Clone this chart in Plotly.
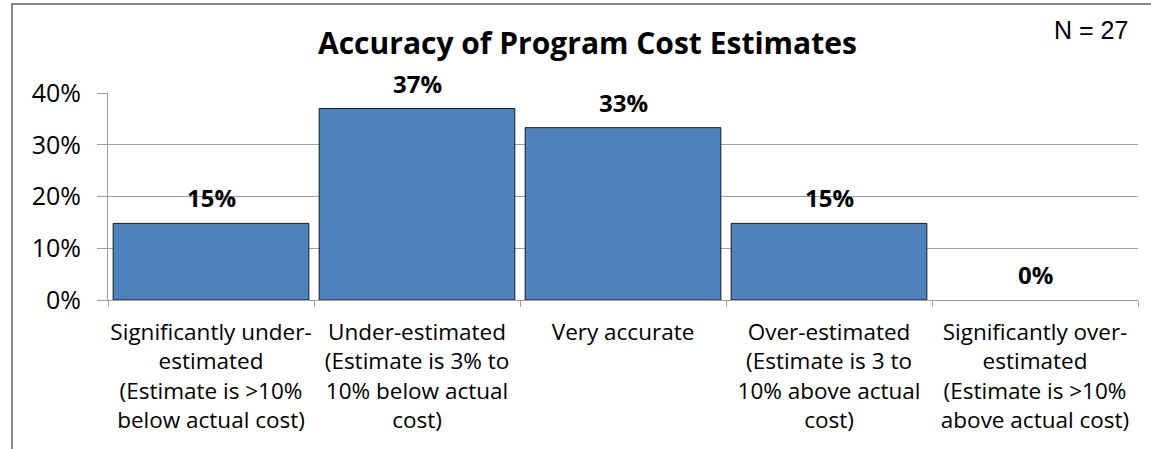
import plotly.graph_objects as go

categories = [
    "Significantly under-<br>estimated<br>(Estimate is >10%<br>below actual cost)",
    "Under-estimated<br>(Estimate is 3% to<br>10% below actual<br>cost)",
    "Very accurate",
    "Over-estimated<br>(Estimate is 3 to<br>10% above actual<br>cost)",
    "Significantly over-<br>estimated<br>(Estimate is >10%<br>above actual cost)",
]
values = [0.148, 0.370, 0.333, 0.148, 0.0]
value_labels = ["15%", "37%", "33%", "15%", "0%"]
y_ticks = [0, 0.1, 0.2, 0.3, 0.4]
y_tick_labels = ["0%", "10%", "20%", "30%", "40%"]
title_text = "Accuracy of Program Cost Estimates"
n_text = "N = 27"

FONT = "Open Sans"
W, H = 1151, 449
L, R, T, B = 108, 13, 93, 149
pw, ph = W - L - R, H - T - B

def px_x(p):
    return (p - L) / pw

def px_y(p):
    return (H - B - p) / ph

fig = go.Figure()
fig.add_trace(go.Bar(
    x=categories, y=values,
    marker=dict(color="#4F81BD",
                line=dict(color="#1a1a1a", width=[1 if v > 0 else 0 for v in values])),
    hoverinfo="skip",
))

for c, v, t in zip(categories, values, value_labels):
    fig.add_annotation(x=c, y=v, text=f"<b>{t}</b>", showarrow=False,
                       yanchor="bottom", yshift=7,
                       font=dict(family=FONT, size=24, color="#000000"))

fig.add_annotation(xref="paper", yref="paper", x=px_x(587), y=px_y(42),
                   text=f"<b>{title_text}</b>", showarrow=False,
                   xanchor="center", yanchor="middle",
                   font=dict(family=FONT, size=30, color="#000000"))
fig.add_annotation(xref="paper", yref="paper", x=px_x(1130), y=px_y(30),
                   text=n_text, showarrow=False, xanchor="right", yanchor="middle",
                   font=dict(family="Liberation Sans", size=25, color="#000000"))

fig.add_shape(type="rect", xref="paper", yref="paper",
              x0=px_x(12), x1=px_x(1160), y0=px_y(460), y1=px_y(4),
              line=dict(color="#868686", width=2), fillcolor="rgba(0,0,0,0)",
              layer="above")

fig.update_layout(
    width=W, height=H,
    margin=dict(l=L, r=R, t=T, b=B, pad=0, autoexpand=False),
    paper_bgcolor="white", plot_bgcolor="white",
    bargap=0.05, showlegend=False,
    font=dict(family=FONT, size=22, color="#000000"),
)
fig.update_xaxes(
    type="category", showgrid=False, ticks="outside", tickson="boundaries",
    ticklen=6, tickcolor="#A0A0A0", showline=True, linecolor="#A0A0A0", linewidth=1,
    tickfont=dict(family=FONT, size=22.5, color="#000000"), tickangle=0,
    ticklabelstandoff=12, automargin=False,
)
fig.update_yaxes(
    range=[0, 0.4], tickvals=y_ticks, ticktext=y_tick_labels,
    showgrid=True, gridcolor="#A0A0A0", gridwidth=1,
    showline=True, linecolor="#A0A0A0", linewidth=1,
    ticks="outside", ticklen=10, tickcolor="#A0A0A0",
    tickfont=dict(family=FONT, size=25, color="#000000"),
    zeroline=False, ticklabelstandoff=11, automargin=False,
)

fig.write_html("out.html", config={"displayModeBar": False},
               post_script="document.body.style.margin='0px';")
